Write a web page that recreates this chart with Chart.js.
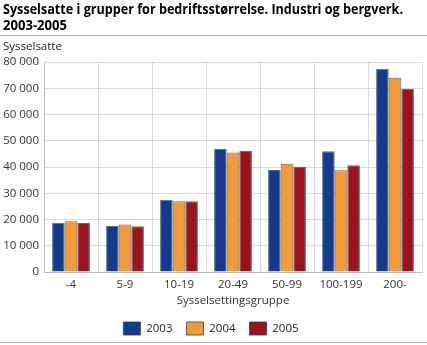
<!DOCTYPE html>
<html>
<head>
<meta charset="utf-8">
<script src="https://cdn.jsdelivr.net/npm/chart.js@4"></script>
<style>
  html, body { margin: 0; padding: 0; background: #fff; }
  #wrap { width: 427px; height: 345px; position: relative; }
</style>
</head>
<body>
<div id="wrap"><canvas id="barChart" width="427" height="345"></canvas></div>
<script>
var groups = ['-4', '5-9', '10-19', '20-49', '50-99', '100-199', '200-'];
var years = ['2003', '2004', '2005'];
var values2003 = [18800, 17500, 27500, 47000, 38900, 46000, 77400];
var values2004 = [19300, 18100, 27000, 45500, 41200, 38800, 74000];
var values2005 = [18700, 17400, 27000, 46100, 40100, 40700, 69700];
var colors = ['#133a8c', '#f39a3a', '#9b141d'];
var yTicks = [0, 10000, 20000, 30000, 40000, 50000, 60000, 70000, 80000];

var FONT = '"Open Sans", "DejaVu Sans", sans-serif';

// heading, unit label and the two grey rules
var framePlugin = {
    id: 'frame',
    beforeDraw: function (chart) {
        var c = chart.ctx;
        c.save();
        c.fillStyle = '#000';
        c.textBaseline = 'alphabetic';
        c.font = 'bold 14.5px ' + FONT;
        c.fillText('Sysselsatte i grupper for bedriftsstørrelse. Industri og bergverk.', 3, 14, 400);
        c.fillText('2003-2005', 3, 30, 64);
        c.strokeStyle = '#b3b3b3';
        c.lineWidth = 1;
        c.beginPath();
        c.moveTo(0, 35.5);
        c.lineTo(427, 35.5);
        c.moveTo(0, 342.5);
        c.lineTo(427, 342.5);
        c.stroke();
        c.font = '11.5px ' + FONT;
        c.fillStyle = '#222';
        c.fillText('Sysselsatte', 3, 50);
        c.restore();
    }
};

var ctx = document.getElementById('barChart').getContext('2d');
var myChart = new Chart(ctx, {
    type: 'bar',
    data: {
        labels: groups,
        datasets: [
            { label: years[0], data: values2003, backgroundColor: colors[0] },
            { label: years[1], data: values2004, backgroundColor: colors[1] },
            { label: years[2], data: values2005, backgroundColor: colors[2] }
        ]
    },
    options: {
        responsive: false,
        animation: false,
        datasets: {
            bar: {
                categoryPercentage: 0.7,
                barPercentage: 1.0,
                borderWidth: 1,
                borderColor: 'rgba(55,55,55,0.75)'
            }
        },
        layout: { padding: { top: 62, right: 5, left: 0, bottom: 0 } },
        scales: {
            x: {
                grid: { color: '#d9d9d9', drawTicks: false, offset: true },
                border: { color: '#bdbdbd' },
                ticks: { color: '#333', padding: 6, font: { family: FONT, size: 11.5 } },
                title: {
                    display: true,
                    text: 'Sysselsettingsgruppe',
                    color: '#333',
                    padding: { top: 0, bottom: 0 },
                    font: { family: FONT, size: 11.5 }
                },
                afterFit: function (scale) { scale.height = 36; }
            },
            y: {
                min: 0,
                max: 80000,
                afterBuildTicks: function (scale) {
                    scale.ticks = yTicks.map(function (v) { return { value: v }; });
                },
                grid: { color: '#d9d9d9', drawTicks: false },
                border: { color: '#bdbdbd' },
                ticks: {
                    color: '#333',
                    padding: 5,
                    font: { family: FONT, size: 11.5 },
                    callback: function (v) {
                        return String(v).replace(/\B(?=(\d{3})+(?!\d))/g, ' ');
                    }
                },
                afterFit: function (scale) { scale.width = 44; }
            }
        },
        plugins: {
            legend: {
                position: 'bottom',
                labels: {
                    color: '#222',
                    boxWidth: 17,
                    boxHeight: 13,
                    padding: 14,
                    font: { family: FONT, size: 11.5 }
                }
            },
            title: { display: false },
            tooltip: { enabled: false }
        }
    },
    plugins: [framePlugin]
});
</script>
</body>
</html>
